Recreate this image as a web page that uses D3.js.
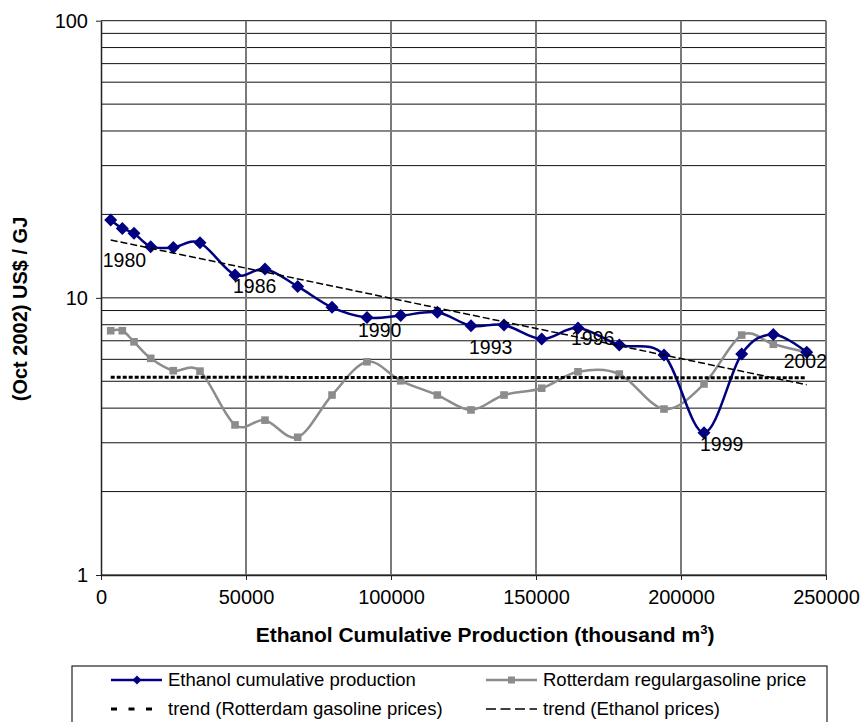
<!DOCTYPE html>
<html>
<head>
<meta charset="utf-8">
<script src="https://cdn.jsdelivr.net/npm/d3@7"></script>
<style>
  body { margin: 0; background: #fff; }
  text { font-family: "Liberation Sans", Arial, sans-serif; fill: #000; }
</style>
</head>
<body>
<svg id="chart" width="866" height="722"></svg>
<script>
// ---- data ----
var years = [1980, 1981, 1982, 1983, 1984, 1985, 1986, 1987, 1988, 1989, 1990, 1991,
             1992, 1993, 1994, 1995, 1996, 1997, 1998, 1999, 2000, 2001, 2002];
// cumulative production, thousand m3
var production = [3345, 7345, 11380, 17140, 24930, 34140, 46210, 56550, 67830, 79660, 91720, 103350,
                  115970, 127590, 138970, 151970, 164480, 178720, 194140, 207930, 220930, 231830, 243340];
// ethanol price, US$/GJ
var ethanolPrice = [19.1, 17.8, 17.1, 15.3, 15.2, 15.8, 12.1, 12.7, 11.0, 9.24, 8.49, 8.63,
                    8.87, 7.93, 7.98, 7.10, 7.79, 6.76, 6.22, 3.26, 6.27, 7.38, 6.36];
// rotterdam regular gasoline, US$/GJ
var gasolinePrice = [7.61, 7.61, 6.94, 6.05, 5.46, 5.44, 3.48, 3.62, 3.14, 4.46, 5.88, 5.02,
                     4.46, 3.94, 4.46, 4.72, 5.41, 5.31, 3.97, 4.89, 7.34, 6.80, 6.36];
var labelYears = [1980, 1986, 1990, 1993, 1996, 1999, 2002];
var xTicks = [0, 50000, 100000, 150000, 200000, 250000];
var yTicks = [1, 10, 100];
var legendNames = ["Ethanol cumulative production", "Rotterdam regulargasoline price",
                   "trend (Rotterdam gasoline prices)", "trend (Ethanol prices)"];

// year label nudges (hand placed in the original)
var labelNudge = {1980: [-8, 47], 1986: [-2, 18], 1990: [-9, 19], 1993: [-2, 28],
                  1996: [-7, 17], 1999: [-4, 18], 2002: [-23, 16]};

var plotLeft = 101, plotRight = 826, plotTop = 20.7, plotBottom = 575;
var svg = d3.select("#chart");

var x = d3.scaleLinear().domain([0, 250000]).range([plotLeft, plotRight]);
var y = d3.scaleLog().domain([1, 100]).range([plotBottom, plotTop]);

var ethanol = production.map(function(p, i) { return {x: p, v: ethanolPrice[i], year: years[i]}; });
var gasoline = production.map(function(p, i) { return {x: p, v: gasolinePrice[i], year: years[i]}; });

// exponential trendline (least squares on log values), like excel
function expFit(pts) {
    var mx = d3.mean(pts, function(d) { return d.x; });
    var my = d3.mean(pts, function(d) { return Math.log(d.v); });
    var sxy = 0, sxx = 0;
    pts.forEach(function(d) {
        sxy += (d.x - mx) * (Math.log(d.v) - my);
        sxx += (d.x - mx) * (d.x - mx);
    });
    var b = sxy / sxx, a = my - b * mx;
    return function(xv) { return Math.exp(a + b * xv); };
}

// gridlines
svg.append("g").selectAll("line")
    .data(y.ticks())
    .enter().append("line")
    .attr("x1", plotLeft).attr("x2", plotRight)
    .attr("y1", function(d) { return y(d); })
    .attr("y2", function(d) { return y(d); })
    .attr("stroke", "#111")
    .attr("stroke-width", 1);

svg.append("g").selectAll("line")
    .data(xTicks.slice(1))
    .enter().append("line")
    .attr("x1", function(d) { return x(d); })
    .attr("x2", function(d) { return x(d); })
    .attr("y1", plotTop).attr("y2", plotBottom)
    .attr("stroke", "#7a7a7a")
    .attr("stroke-width", 2);

// axes
var xAxis = svg.append("g")
    .attr("transform", "translate(0," + plotBottom + ")")
    .call(d3.axisBottom(x).tickValues(xTicks).tickSize(5).tickSizeOuter(0).tickPadding(10).tickFormat(d3.format("d")));
var yAxis = svg.append("g")
    .attr("transform", "translate(" + plotLeft + ",0)")
    .call(d3.axisLeft(y).tickValues(yTicks).tickSize(5).tickSizeOuter(0).tickPadding(8).tickFormat(d3.format("d")));
[xAxis, yAxis].forEach(function(a) {
    a.selectAll("path").attr("stroke", "#222").attr("stroke-width", 1.5);
    a.selectAll("line").attr("stroke", "#222");
    a.selectAll("text").attr("font-size", 20).attr("fill", "#000")
        .attr("font-family", "'Liberation Sans', Arial, sans-serif");
});

// series
var smooth = d3.line()
    .x(function(d) { return x(d.x); })
    .y(function(d) { return y(d.v); })
    .curve(d3.curveCardinal.tension(0));

svg.append("path").datum(gasoline)
    .attr("d", smooth)
    .attr("fill", "none")
    .attr("stroke", "#8c8c8c")
    .attr("stroke-width", 2.5);

svg.append("g").selectAll("rect")
    .data(gasoline)
    .enter().append("rect")
    .attr("x", function(d) { return x(d.x) - 3.8; })
    .attr("y", function(d) { return y(d.v) - 3.8; })
    .attr("width", 7.6).attr("height", 7.6)
    .attr("fill", "#8c8c8c");

svg.append("path").datum(ethanol)
    .attr("d", smooth)
    .attr("fill", "none")
    .attr("stroke", "#000080")
    .attr("stroke-width", 2.5);

var diamond = "M0,-6.5L6.5,0L0,6.5L-6.5,0Z";
svg.append("g").selectAll("path")
    .data(ethanol)
    .enter().append("path")
    .attr("d", diamond)
    .attr("transform", function(d) { return "translate(" + x(d.x) + "," + y(d.v) + ")"; })
    .attr("fill", "#000080");

// trendlines
var straight = d3.line()
    .x(function(d) { return x(d.x); })
    .y(function(d) { return y(d.v); });

function trendPts(series) {
    var f = expFit(series);
    var x0 = series[0].x, x1 = series[series.length - 1].x;
    return [{x: x0, v: f(x0)}, {x: x1, v: f(x1)}];
}

svg.append("path").datum(trendPts(gasoline))
    .attr("d", straight)
    .attr("fill", "none")
    .attr("stroke", "#000")
    .attr("stroke-width", 3)
    .attr("stroke-dasharray", "4,2");

svg.append("path").datum(trendPts(ethanol))
    .attr("d", straight)
    .attr("fill", "none")
    .attr("stroke", "#000")
    .attr("stroke-width", 1.5)
    .attr("stroke-dasharray", "7,3");

// year labels
svg.append("g").selectAll("text")
    .data(ethanol.filter(function(d) { return labelYears.indexOf(d.year) >= 0; }))
    .enter().append("text")
    .attr("x", function(d) { return x(d.x) + labelNudge[d.year][0]; })
    .attr("y", function(d) { return y(d.v) + labelNudge[d.year][1]; })
    .attr("font-size", 19.5)
    .text(function(d) { return d.year; });

// axis titles
var xt = svg.append("text")
    .attr("x", 485).attr("y", 642)
    .attr("text-anchor", "middle")
    .attr("font-size", 21)
    .attr("font-weight", "bold");
xt.append("tspan").text("Ethanol Cumulative Production (thousand m");
xt.append("tspan").attr("dy", -8).attr("font-size", 13).text("3");
xt.append("tspan").attr("dy", 8).text(")");

svg.append("text")
    .attr("transform", "translate(27,309) rotate(-90)")
    .attr("text-anchor", "middle")
    .attr("font-size", 20)
    .attr("font-weight", "bold")
    .text("(Oct 2002) US$ / GJ");

// legend
var lg = svg.append("g");
lg.append("rect")
    .attr("x", 72).attr("y", 666)
    .attr("width", 755).attr("height", 80)
    .attr("fill", "#fff")
    .attr("stroke", "#222")
    .attr("stroke-width", 1.2);

var rows = [686, 715], cols = [111, 486];
lg.append("line").attr("x1", cols[0]).attr("x2", cols[0] + 51).attr("y1", rows[0] - 6).attr("y2", rows[0] - 6)
    .attr("stroke", "#000080").attr("stroke-width", 2.5);
lg.append("path").attr("d", "M0,-4.5L4.5,0L0,4.5L-4.5,0Z")
    .attr("transform", "translate(" + (cols[0] + 26) + "," + (rows[0] - 6) + ")")
    .attr("fill", "#000080");
lg.append("line").attr("x1", cols[1]).attr("x2", cols[1] + 51).attr("y1", rows[0] - 6).attr("y2", rows[0] - 6)
    .attr("stroke", "#8c8c8c").attr("stroke-width", 2.5);
lg.append("rect").attr("x", cols[1] + 22).attr("y", rows[0] - 9.5).attr("width", 7).attr("height", 7)
    .attr("fill", "#8c8c8c");
lg.append("line").attr("x1", cols[0]).attr("x2", cols[0] + 51).attr("y1", rows[1] - 6).attr("y2", rows[1] - 6)
    .attr("stroke", "#000").attr("stroke-width", 3).attr("stroke-dasharray", "6,11.5");
lg.append("line").attr("x1", cols[1]).attr("x2", cols[1] + 51).attr("y1", rows[1] - 6).attr("y2", rows[1] - 6)
    .attr("stroke", "#000").attr("stroke-width", 1.5).attr("stroke-dasharray", "10,4.5");

lg.selectAll("text.lab")
    .data(legendNames)
    .enter().append("text")
    .attr("class", "lab")
    .attr("x", function(d, i) { return cols[i % 2] + 57; })
    .attr("y", function(d, i) { return rows[Math.floor(i / 2)]; })
    .attr("font-size", 18.5)
    .text(function(d) { return d; });
</script>
</body>
</html>
